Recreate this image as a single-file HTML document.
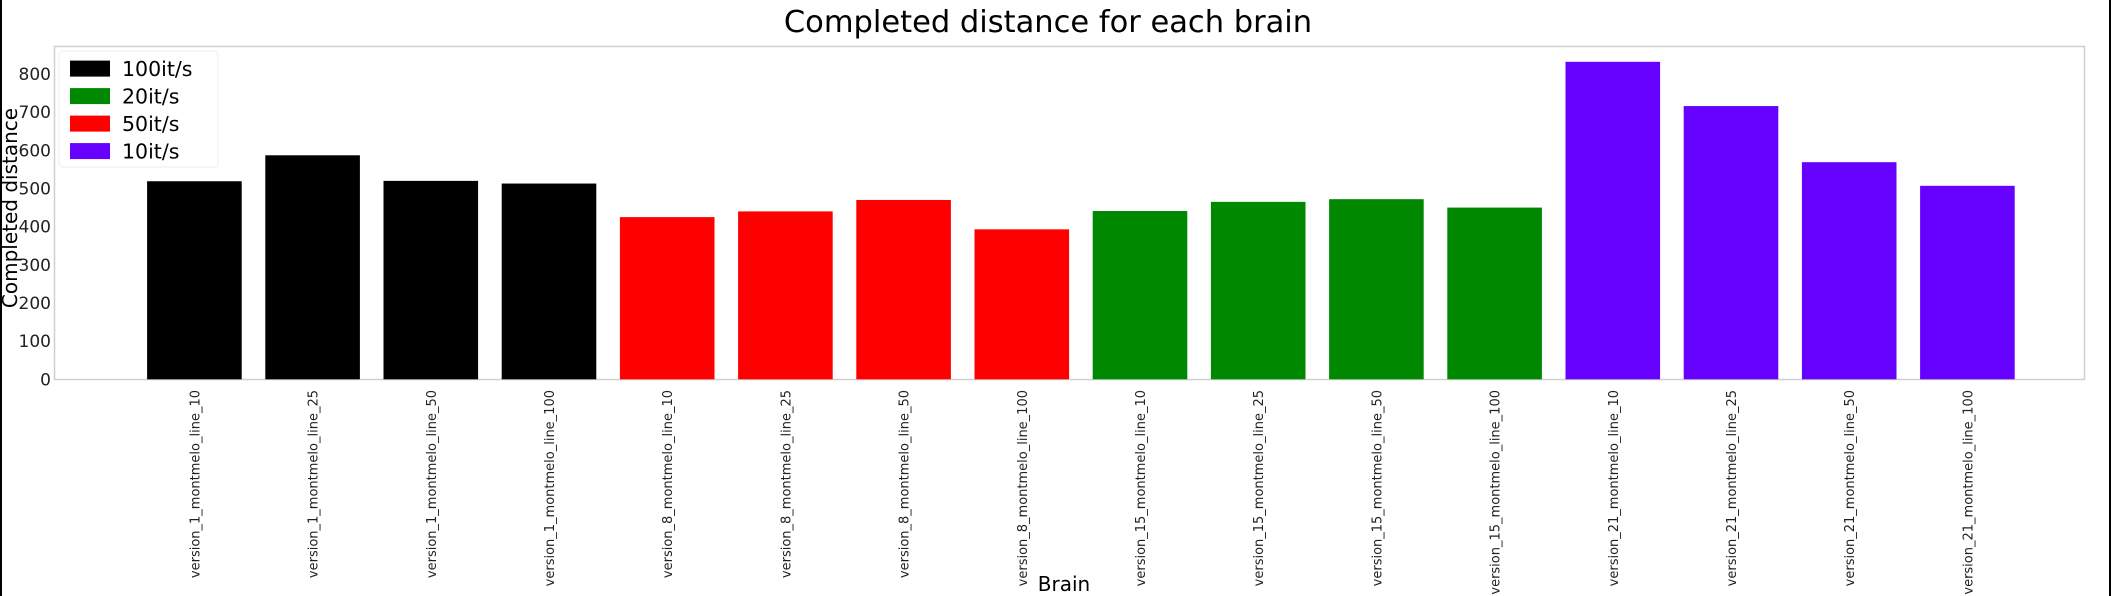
<!DOCTYPE html>
<html><head><meta charset="utf-8"><style>
html,body{margin:0;padding:0;background:#fff;}
svg{display:block;font-family:"DejaVu Sans","Liberation Sans",sans-serif;}
</style></head><body>
<svg id="chart" width="2111" height="596" viewBox="0 0 2111 596">
<rect x="0" y="0" width="2111" height="596" fill="#fff"/>
<line x1="1" y1="0" x2="1" y2="596" stroke="#000" stroke-width="2"/>
<line x1="2110" y1="0" x2="2110" y2="596" stroke="#000" stroke-width="2"/>
<text x="1048" y="32" text-anchor="middle" font-size="30.5" fill="#000">Completed distance for each brain</text>
<rect x="54.5" y="46.5" width="2030" height="333" fill="none" stroke="#d0d0d0" stroke-width="1.5"/>
<g id="bars"></g>
<g id="yticks"></g>
<g id="xticks"></g>
<text transform="translate(17,208) rotate(-90)" text-anchor="middle" font-size="20" fill="#000">Completed distance</text>
<text x="1064" y="591" text-anchor="middle" font-size="20" fill="#000">Brain</text>
<g id="legend"></g>
</svg>
<script>
const categories = ["version_1_montmelo_line_10","version_1_montmelo_line_25","version_1_montmelo_line_50","version_1_montmelo_line_100","version_8_montmelo_line_10","version_8_montmelo_line_25","version_8_montmelo_line_50","version_8_montmelo_line_100","version_15_montmelo_line_10","version_15_montmelo_line_25","version_15_montmelo_line_50","version_15_montmelo_line_100","version_21_montmelo_line_10","version_21_montmelo_line_25","version_21_montmelo_line_50","version_21_montmelo_line_100"];
const values = [519, 587, 520, 513, 425, 440, 470, 393, 441, 465, 472, 450, 832, 716, 569, 507];
const groups = [0,0,0,0,2,2,2,2,1,1,1,1,3,3,3,3];
const legendLabels = ["100it/s","20it/s","50it/s","10it/s"];
const legendColors = ["#000000","#008800","#ff0000","#6600ff"];
const yTicks = [0,100,200,300,400,500,600,700,800];

const NS = "http://www.w3.org/2000/svg";
const x0 = 194.4, step = 118.2, barW = 94.6;
const yBase = 379.3, pxPer = 0.3816;
function xScale(i){ return x0 + i*step; }
function yScale(v){ return yBase - v*pxPer; }
function mk(tag, attrs, parent){ const e=document.createElementNS(NS,tag); for(const k in attrs) e.setAttribute(k,attrs[k]); parent.appendChild(e); return e; }

const bars = document.getElementById('bars');
values.forEach((v,i)=>{
  const r = mk('rect',{x:xScale(i)-barW/2,y:yScale(v),width:barW,height:yBase-yScale(v),fill:legendColors[groups[i]]},bars);
  
  
});

const yg = document.getElementById('yticks');
yTicks.forEach(t=>{
  const tx = mk('text',{x:51,y:yScale(t)+6,'text-anchor':'end','font-size':17,fill:'#222'},yg);
  tx.textContent = t;
  
  
});

const xg = document.getElementById('xticks');
categories.forEach((c,i)=>{
  const tx = mk('text',{transform:`translate(${xScale(i)+5},${390}) rotate(-90)`,'text-anchor':'end','font-size':13,fill:'#222'},xg);
  tx.textContent = c;
  
  
});

const lg = document.getElementById('legend');
const box = mk('rect',{x:59,y:51,width:159,height:116,rx:4,fill:'#fff',stroke:'#eee','stroke-width':1},lg);


legendLabels.forEach((l,i)=>{
  const cy = 68.6 + i*27.5;
  const sw = mk('rect',{x:70,y:cy-8,width:40,height:16,fill:legendColors[i]},lg);
  
  
  const tx = mk('text',{x:122,y:cy+7.5,'font-size':20.5,fill:'#000'},lg);
  tx.textContent = l;
  
  
});
</script>
</body></html>
